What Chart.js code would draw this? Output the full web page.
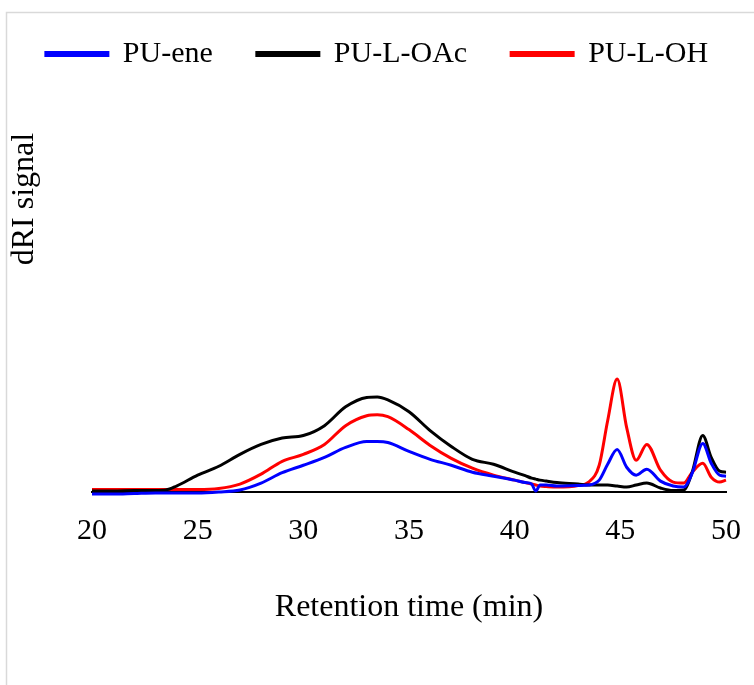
<!DOCTYPE html>
<html>
<head>
<meta charset="utf-8">
<script src="https://cdn.jsdelivr.net/npm/chart.js"></script>
<style>
  html, body { margin: 0; padding: 0; background: #fff; }
  #wrap { width: 754px; height: 685px; }
</style>
</head>
<body>
<div id="wrap"><canvas id="myChart" width="754" height="685"></canvas></div>
<script>
// retention time grid (min)
const times = [20, 21, 22, 23, 23.5, 24, 25, 26, 27, 28, 29, 30, 31, 32, 33, 33.5, 34, 35, 36, 37, 38, 39, 40, 40.5, 40.8, 41, 41.2, 41.5, 42, 43, 43.5, 44, 44.4, 44.85, 45.3, 45.75, 46.25, 46.9, 47.5, 48, 48.4, 48.9, 49.3, 49.7, 50];

// dRI signal (arbitrary units)
const puEne  = [-2, -2, -1.5, -1, -1, -1, -1, 0, 2, 9, 19.5, 27, 35, 45, 51, 51, 50, 41, 33, 27, 20, 16, 12, 9.5, 8, 1, 7, 7, 6, 6.5, 7, 12, 28, 43, 25, 17, 23, 11, 6, 5, 19, 49, 29, 17, 16];
const puLOAc = [1, 1, 1.5, 1.5, 2, 6, 17, 26, 38, 48, 54.5, 57, 67, 86, 95.5, 96, 93, 81, 62, 46, 33, 28, 20, 16.5, 14, 13, 12, 11, 9.5, 8, 7, 7, 7, 6, 5, 7, 9, 4, 1.5, 2, 20, 57, 35, 21, 20];
const puLOH  = [2.5, 2.5, 2.5, 2.5, 2.5, 2.5, 2.5, 3.5, 8, 18, 31, 38, 48, 67, 77, 78, 76, 63, 47, 34, 24, 17, 12, 9.5, 8, 7, 6, 5.5, 5, 6.5, 10, 27, 72, 114, 65, 32, 48, 22, 10, 9, 20, 29, 15, 10, 12];

const seriesNames = ['PU-ene', 'PU-L-OAc', 'PU-L-OH'];
const seriesColors = ['#0000FF', '#000000', '#FF0000'];
const xTicks = [20, 25, 30, 35, 40, 45, 50];

const FONT = "'Liberation Serif', 'Times New Roman', serif";

function pts(vals) {
  return times.map((t, i) => ({ x: t, y: vals[i] }));
}

const data = {
  datasets: [puEne, puLOAc, puLOH].map((vals, i) => ({
    label: seriesNames[i],
    data: pts(vals),
    borderColor: seriesColors[i],
    backgroundColor: seriesColors[i],
    borderWidth: 3,
    pointRadius: 0,
    cubicInterpolationMode: 'monotone',
    clip: false
  }))
};

// gray frame + vertical axis title
const extras = {
  id: 'extras',
  beforeDraw(chart) {
    const ctx = chart.ctx;
    ctx.save();
    ctx.fillStyle = '#fff';
    ctx.fillRect(0, 0, chart.width, chart.height);
    ctx.strokeStyle = '#d9d9d9';
    ctx.lineWidth = 1.5;
    ctx.beginPath();
    ctx.moveTo(6.5, chart.height);
    ctx.lineTo(6.5, 12.5);
    ctx.lineTo(chart.width, 12.5);
    ctx.stroke();
    ctx.restore();
  },
  afterDraw(chart) {
    const ctx = chart.ctx;
    ctx.save();
    ctx.translate(25, 199);
    ctx.rotate(-Math.PI / 2);
    ctx.font = '32px ' + FONT;
    ctx.fillStyle = '#000';
    ctx.textAlign = 'center';
    ctx.textBaseline = 'middle';
    ctx.fillText('dRI signal', 0, 0);
    ctx.restore();
  }
};

const config = {
  type: 'line',
  data,
  options: {
    responsive: false,
    animation: false,
    layout: { padding: { left: 0, right: 0, top: -5, bottom: 58.6 } },
    plugins: {
      legend: {
        position: 'top',
        labels: {
          font: { family: FONT, size: 30 },
          color: '#000',
          boxWidth: 62,
          boxHeight: 3,
          padding: 44
        }
      },
      tooltip: { enabled: false }
    },
    scales: {
      x: {
        type: 'linear',
        min: 20,
        max: 50,
        afterBuildTicks(scale) { scale.ticks = xTicks.map(v => ({ value: v })); },
        ticks: { font: { family: FONT, size: 30 }, color: '#000', padding: 0 },
        grid: { display: false, drawTicks: true, tickLength: 21 },
        border: { display: true, color: '#000', width: 2 },
        title: {
          display: true,
          text: 'Retention time (min)',
          font: { family: FONT, size: 32 },
          color: '#000',
          padding: { top: 39, bottom: 0 }
        }
      },
      y: {
        min: 0,
        max: 417,
        afterFit(scale) { scale.width = 92; },
        ticks: { display: false },
        grid: { display: false, drawTicks: false },
        border: { display: false }
      },
      yRight: {
        position: 'right',
        afterFit(scale) { scale.width = 28; },
        ticks: { display: false },
        grid: { display: false, drawTicks: false },
        border: { display: false }
      }
    }
  },
  plugins: [extras]
};

const myChart = new Chart(document.getElementById('myChart'), config);
</script>
</body>
</html>
